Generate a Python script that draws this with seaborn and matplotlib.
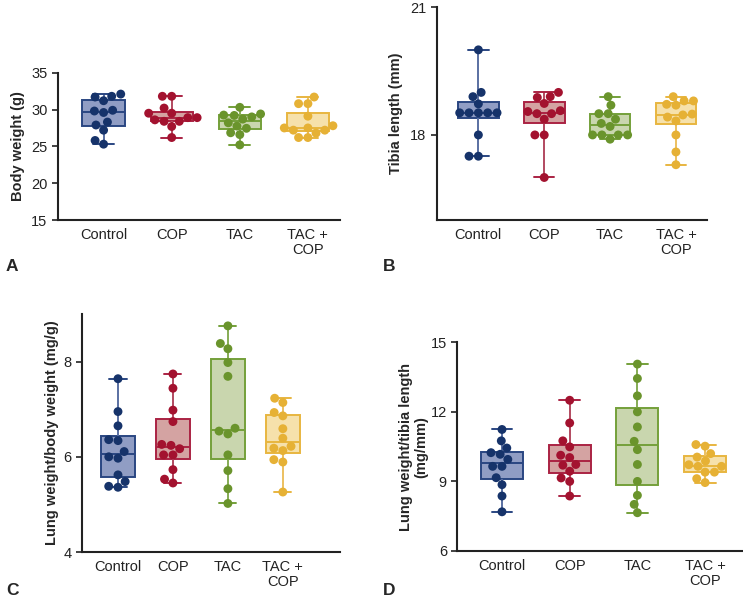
import numpy as np
import pandas as pd
import matplotlib
matplotlib.use("Agg")
import matplotlib.pyplot as plt
import seaborn as sns

sns.set_style("white")
plt.rcParams['font.family'] = ['Liberation Sans', 'DejaVu Sans']

groups = ["Control", "COP", "TAC", "TAC + COP"]
tick_labels = ["Control", "COP", "TAC", "TAC +\nCOP"]

# Panel A: Body weight (g)
bw_control = [32.1, 31.8, 31.7, 31.2, 29.9, 29.8, 29.6, 28.3, 27.9, 27.2, 25.8, 25.3]
bw_cop = [31.8, 31.8, 30.2, 29.5, 29.5, 28.9, 28.9, 28.6, 28.4, 28.4, 27.7, 26.2]
bw_tac = [30.3, 29.4, 29.25, 29.2, 29.0, 28.7, 28.2, 27.75, 27.45, 26.85, 26.6, 25.2]
bw_taccop = [31.7, 30.8, 30.8, 29.1, 27.8, 27.5, 27.5, 27.2, 27.2, 26.8, 26.2, 26.2]

# Panel B: Tibia length (mm)
tl_control = [20.0, 19.0, 18.9, 18.73, 18.52, 18.52, 18.52, 18.52, 18.52, 18.0, 17.5, 17.5]
tl_cop = [19.0, 18.9, 18.88, 18.74, 18.57, 18.55, 18.5, 18.5, 18.37, 18.0, 18.0, 17.0]
tl_tac = [18.9, 18.7, 18.5, 18.5, 18.37, 18.27, 18.2, 18.0, 18.0, 18.0, 18.0, 17.9]
tl_taccop = [18.9, 18.8, 18.8, 18.72, 18.7, 18.49, 18.47, 18.42, 18.33, 18.0, 17.6, 17.3]

# Panel C: Lung weight/body weight (mg/g)
lb_control = [7.64, 6.95, 6.65, 6.36, 6.34, 6.11, 6.0, 5.97, 5.62, 5.48, 5.38, 5.36]
lb_cop = [7.74, 7.44, 6.98, 6.74, 6.26, 6.24, 6.17, 6.04, 6.04, 5.73, 5.53, 5.45]
lb_tac = [8.75, 8.38, 8.27, 7.98, 7.69, 6.6, 6.54, 6.48, 6.04, 5.71, 5.33, 5.02]
lb_taccop = [7.23, 7.14, 6.93, 6.86, 6.59, 6.39, 6.22, 6.18, 6.13, 5.94, 5.89, 5.26]

# Panel D: Lung weight/tibia length (mg/mm)
lt_control = [11.24, 10.75, 10.44, 10.24, 10.17, 9.95, 9.65, 9.65, 9.16, 8.86, 8.37, 7.69]
lt_cop = [12.5, 11.52, 10.75, 10.49, 10.13, 10.03, 9.73, 9.7, 9.44, 9.15, 9.0, 8.37]
lt_tac = [14.06, 13.44, 12.69, 12.0, 11.35, 10.73, 10.37, 9.73, 9.0, 8.4, 8.01, 7.65]
lt_taccop = [10.59, 10.52, 10.2, 10.05, 9.88, 9.72, 9.65, 9.65, 9.4, 9.4, 9.12, 8.95]

point_colors = ["#16336a", "#a3122f", "#6a942c", "#e6b135"]
edge_colors = ["#2a4682", "#aa2343", "#74a03a", "#e8b640"]
fill_colors = ["#909dc4", "#d4a3a2", "#c9d6ae", "#f6e1ab"]
whisker_colors = ["#5a70a2", "#b24a60", "#86ac55", "#ecc060"]

def make_df(vals):
    rows = []
    for g, v in zip(groups, vals):
        for x in v:
            rows.append((g, x))
    return pd.DataFrame(rows, columns=["group", "value"])

fig = plt.figure(figsize=(7.43, 6.0), dpi=100)

panels = [
    dict(vals=[bw_control, bw_cop, bw_tac, bw_taccop], rect=[0.078, 0.6333, 0.3795, 0.2455],
         ylim=(15, 35), yticks=[15, 20, 25, 30, 35], ylabel="Body weight (g)",
         xlim=(-0.67, 3.47), labx=-0.117, letter="A", lpos=(0.008, 0.548)),
    dict(vals=[tl_control, tl_cop, tl_tac, tl_taccop], rect=[0.588, 0.6333, 0.3634, 0.3545],
         ylim=(16, 21), yticks=[18, 21], ylabel="Tibia length (mm)",
         xlim=(-0.63, 3.47), labx=-0.126, letter="B", lpos=(0.515, 0.548)),
    dict(vals=[lb_control, lb_cop, lb_tac, lb_taccop], rect=[0.11, 0.08, 0.3476, 0.3967],
         ylim=(4, 9), yticks=[4, 6, 8], ylabel="Lung weight/body weight (mg/g)",
         xlim=(-0.66, 4.04), labx=-0.088, letter="C", lpos=(0.008, 0.008)),
    dict(vals=[lt_control, lt_cop, lt_tac, lt_taccop], rect=[0.6155, 0.0817, 0.3845, 0.3478],
         ylim=(6, 15), yticks=[6, 9, 12, 15], ylabel="Lung weight/tibia length\n(mg/mm)",
         xlim=(-0.66, 3.56), labx=-0.103, letter="D", lpos=(0.515, 0.008)),
]

for p in panels:
    ax = fig.add_axes(p["rect"])
    df = make_df(p["vals"])
    for i, g in enumerate(groups):
        sub = df[df["group"] == g]
        sns.boxplot(data=sub, x="group", y="value", order=groups, ax=ax,
                    color=fill_colors[i], linecolor=edge_colors[i], saturation=1,
                    whis=(0, 100), showfliers=False, width=0.62, linewidth=1.4,
                    whiskerprops=dict(color=whisker_colors[i], linewidth=1.4),
                    capprops=dict(color=edge_colors[i], linewidth=1.4),
                    medianprops=dict(color=edge_colors[i], linewidth=1.4))
    sns.swarmplot(data=df, x="group", y="value", order=groups, hue="group",
                  hue_order=groups, palette=point_colors, size=6.4, legend=False,
                  ax=ax, zorder=5, warn_thresh=1)
    ax.set_xlim(*p["xlim"])
    ax.set_ylim(*p["ylim"])
    ax.set_yticks(p["yticks"])
    ax.set_xticks(range(4))
    ax.set_xticklabels(tick_labels, fontsize=10.5, color="#222222", linespacing=1.1)
    ax.tick_params(axis="y", labelsize=10.5, length=4, width=1.2, colors="#222222",
                   direction="out", left=True)
    ax.tick_params(axis="x", length=0, pad=6)
    ax.set_xlabel("")
    ax.set_ylabel(p["ylabel"], fontsize=10.5, fontweight="bold", linespacing=1.1)
    ax.yaxis.set_label_coords(p["labx"], 0.5)
    for s in ["top", "right"]:
        ax.spines[s].set_visible(False)
    for s in ["left", "bottom"]:
        ax.spines[s].set_color("#222222")
        ax.spines[s].set_linewidth(1.5)
    fig.text(p["lpos"][0], p["lpos"][1], p["letter"], fontsize=12.5, fontweight="bold")

fig.savefig("out.png", dpi=100)
